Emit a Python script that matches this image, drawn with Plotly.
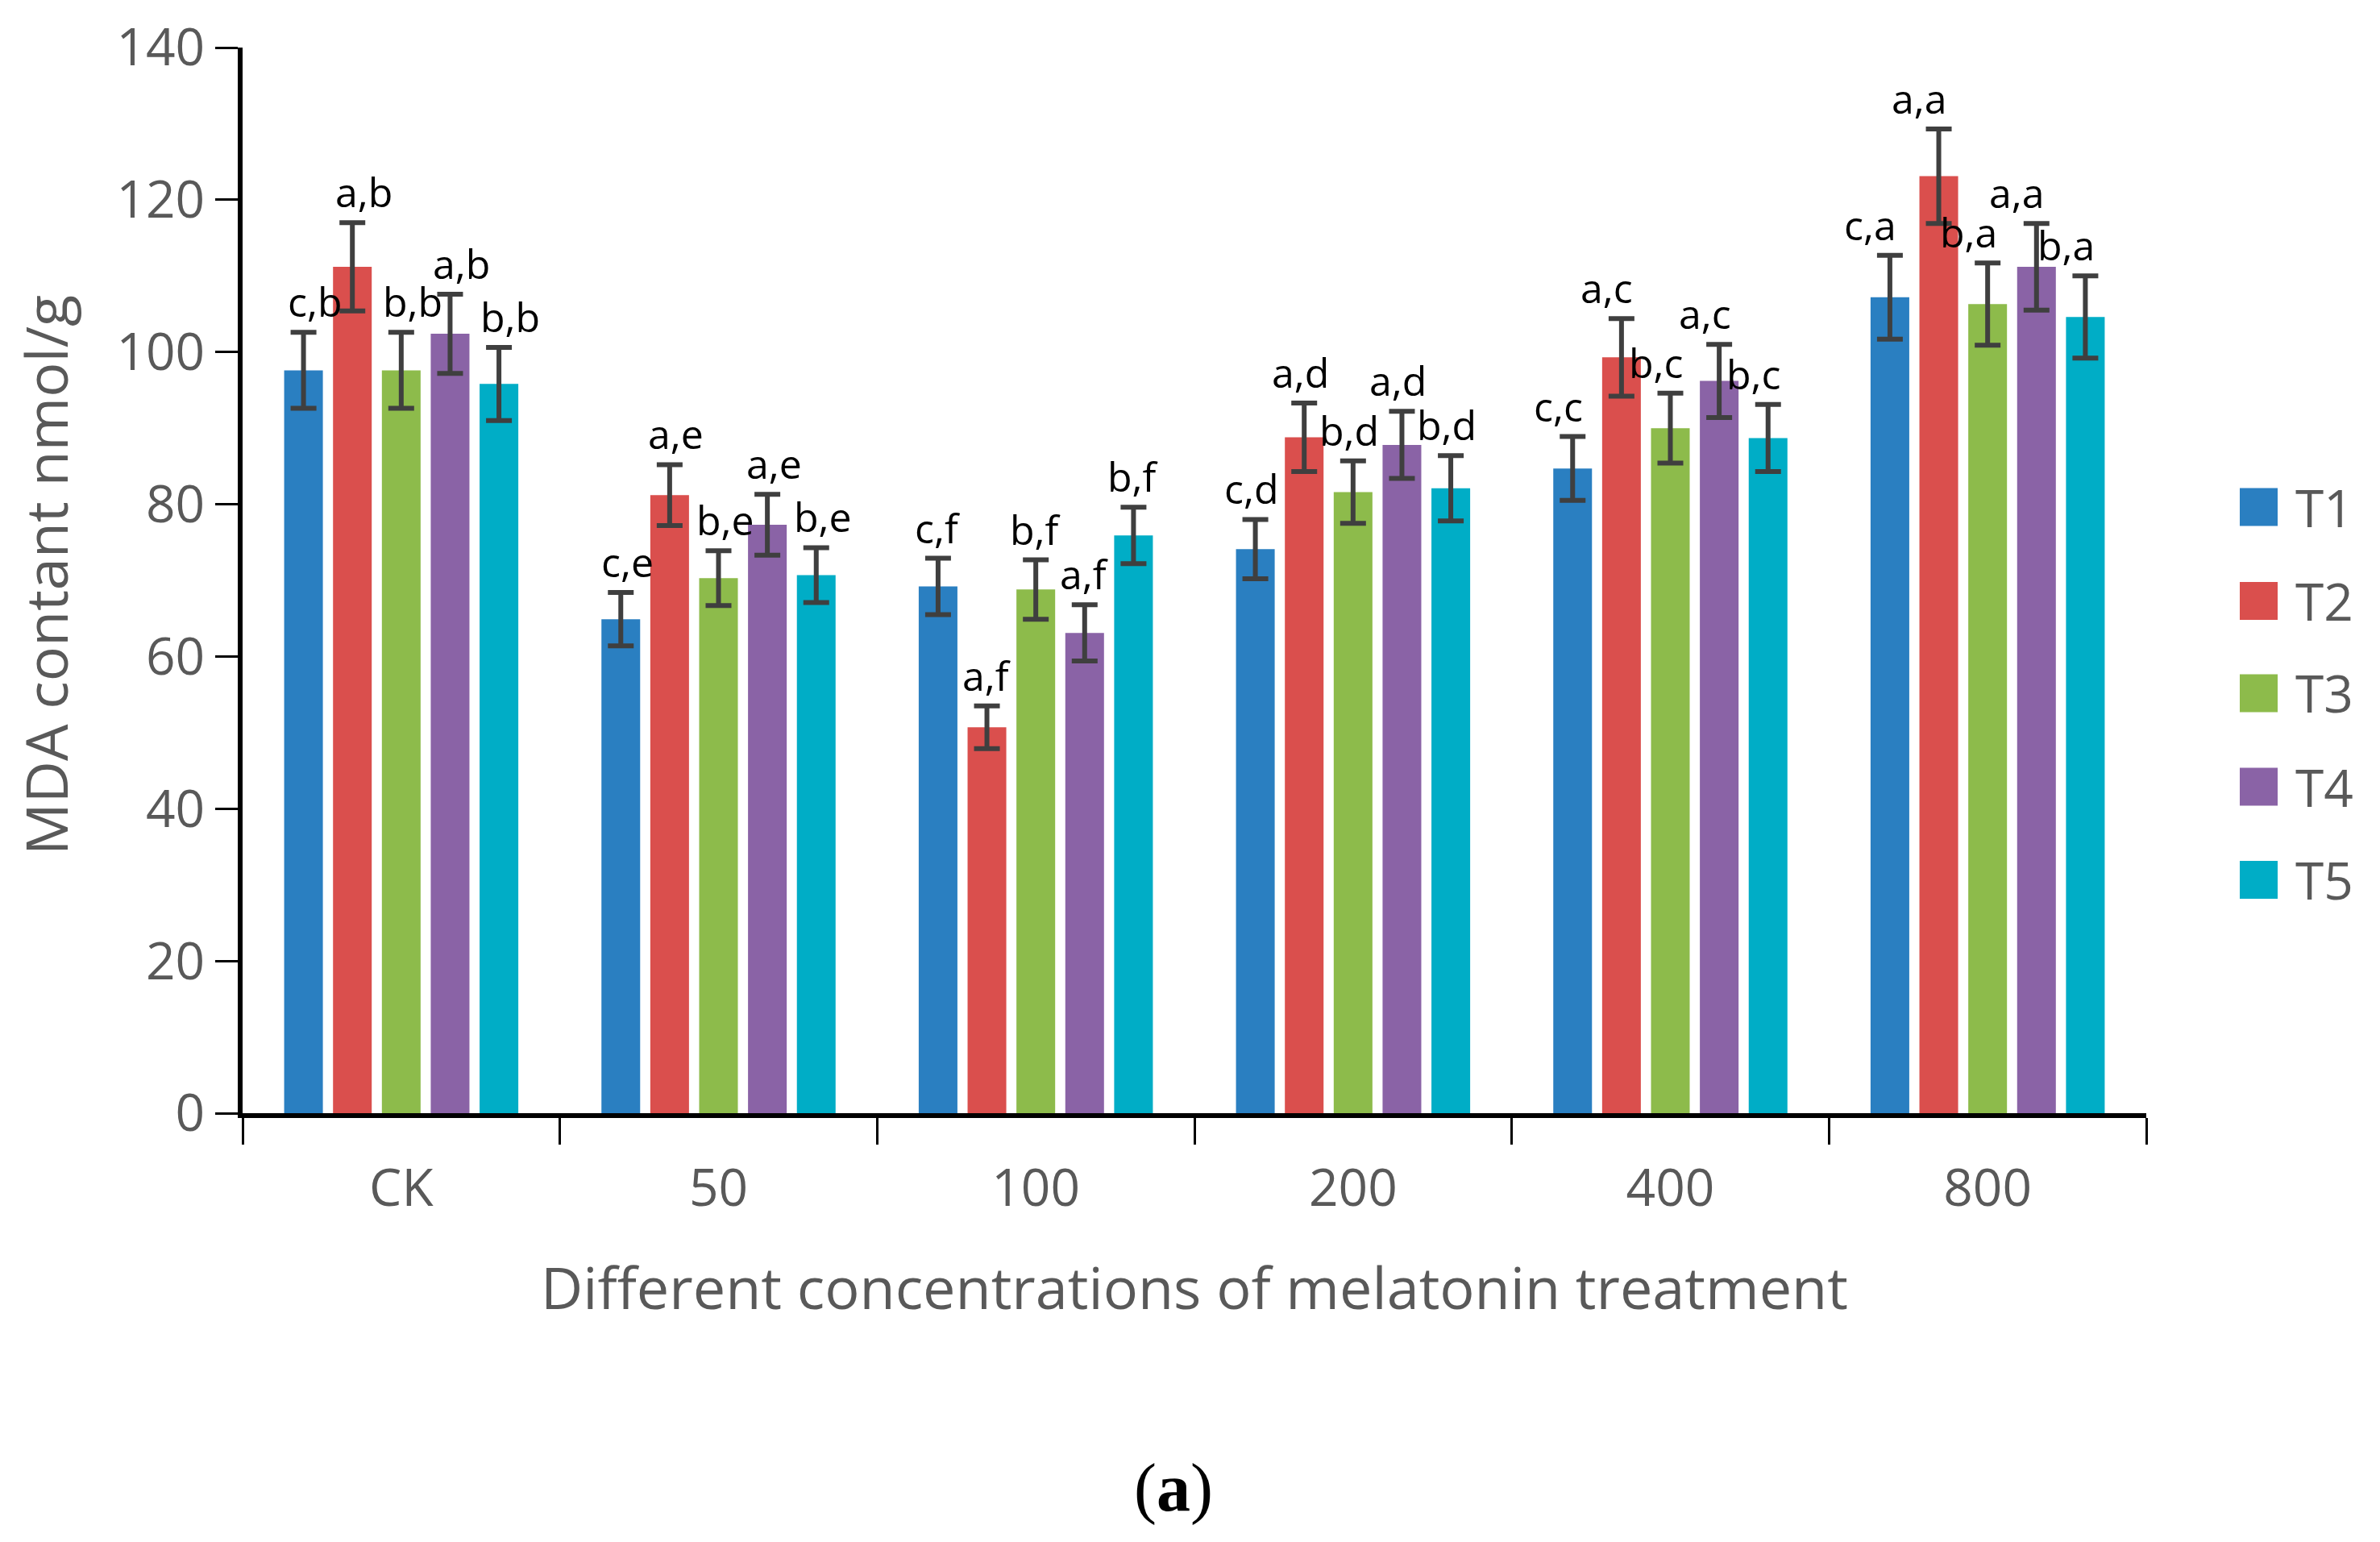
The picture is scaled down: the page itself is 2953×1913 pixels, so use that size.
import plotly.graph_objects as go

# ---------------- data ----------------
categories = ["CK", "50", "100", "200", "400", "800"]
series_names = ["T1", "T2", "T3", "T4", "T5"]

T1 = [97.6, 64.9, 69.2, 74.1, 84.7, 107.2]
T2 = [111.2, 81.2, 50.7, 88.8, 99.3, 123.1]
T3 = [97.6, 70.3, 68.8, 81.6, 90.0, 106.3]
T4 = [102.4, 77.3, 63.1, 87.8, 96.2, 111.2]
T5 = [95.8, 70.7, 75.9, 82.1, 88.7, 104.6]

T1_err = [5.0, 3.5, 3.7, 3.9, 4.2, 5.5]
T2_err = [5.8, 4.0, 2.8, 4.5, 5.1, 6.2]
T3_err = [5.0, 3.6, 3.9, 4.1, 4.6, 5.4]
T4_err = [5.2, 4.0, 3.7, 4.4, 4.8, 5.7]
T5_err = [4.8, 3.6, 3.7, 4.3, 4.4, 5.4]

T1_lab = ["c,b", "c,e", "c,f", "c,d", "c,c", "c,a"]
T2_lab = ["a,b", "a,e", "a,f", "a,d", "a,c", "a,a"]
T3_lab = ["b,b", "b,e", "b,f", "b,d", "b,c", "b,a"]
T4_lab = ["a,b", "a,e", "a,f", "a,d", "a,c", "a,a"]
T5_lab = ["b,b", "b,e", "b,f", "b,d", "b,c", "b,a"]

y_ticks = [0, 20, 40, 60, 80, 100, 120, 140]

# ---------------- style ----------------
colors = ["#2A7FC1", "#DA4F4D", "#8DBB4B", "#8A63A6", "#00ADC6"]
values = [T1, T2, T3, T4, T5]
errors = [T1_err, T2_err, T3_err, T4_err, T5_err]
letters = [T1_lab, T2_lab, T3_lab, T4_lab, T5_lab]

W, H = 2953, 1913
L, R, T, B = 301, 290, 59, 532
PW, PH = W - L - R, H - T - B

def px_x(px):
    return (px - L) / PW

def px_y(py):
    return (H - B - py) / PH

bar_w = 0.122
pitch = 0.154
label_xshift = [14, 8, 0, -5, -18, -24]
FONT = "Open Sans"
GRAY = "#595959"

fig = go.Figure()
annotations = []
shapes = []
for k, name in enumerate(series_names):
    center = (k - 2) * pitch
    fig.add_trace(go.Bar(
        name=name,
        x=categories,
        y=values[k],
        width=bar_w,
        offset=center - bar_w / 2,
        marker=dict(color=colors[k], line=dict(width=0)),
        error_y=dict(type="data", array=errors[k], color="#3F3F3F",
                     thickness=6, width=16),
        showlegend=False,
    ))
    for i in range(len(categories)):
        annotations.append(dict(
            x=i + center, y=values[k][i] + errors[k][i],
            xref="x", yref="y", text=letters[k][i], showarrow=False,
            xanchor="center", yanchor="bottom", yshift=2,
            xshift=label_xshift[i],
            font=dict(family=FONT, size=50, color="#000000"),
        ))

# legend drawn manually
leg_centers = [629, 745.5, 860, 976, 1091.5]
for k, name in enumerate(series_names):
    cy = leg_centers[k]
    shapes.append(dict(type="rect", xref="paper", yref="paper",
                       x0=px_x(2779), x1=px_x(2826),
                       y0=px_y(cy + 23.5), y1=px_y(cy - 23.5),
                       fillcolor=colors[k], line=dict(width=0)))
    annotations.append(dict(x=px_x(2846), y=px_y(cy), xref="paper", yref="paper",
                            text=name, showarrow=False, xanchor="left",
                            yanchor="middle",
                            font=dict(family=FONT, size=64, color=GRAY)))

# axis titles
annotations.append(dict(x=0.5, y=px_y(1596), xref="paper", yref="paper",
                        text="Different concentrations of melatonin treatment",
                        showarrow=False, xanchor="center", yanchor="middle",
                        font=dict(family=FONT, size=72, color=GRAY)))
annotations.append(dict(x=px_x(56), y=px_y(714), xref="paper", yref="paper",
                        text="MDA contant nmol/g", textangle=-90,
                        showarrow=False, xanchor="center", yanchor="middle",
                        font=dict(family=FONT, size=72, color=GRAY)))
annotations.append(dict(x=px_x(1456), y=px_y(1846), xref="paper", yref="paper",
                        text="(<b>a</b>)", showarrow=False,
                        xanchor="center", yanchor="middle",
                        font=dict(family="Liberation Serif", size=84, color="#000000")))

fig.update_layout(
    width=W, height=H,
    margin=dict(l=L, r=R, t=T, b=B, autoexpand=False),
    paper_bgcolor="white", plot_bgcolor="white",
    barmode="overlay",
    annotations=annotations,
    shapes=shapes,
    showlegend=False,
    xaxis=dict(
        type="category", range=[-0.5, len(categories) - 0.5],
        tickson="boundaries", ticks="outside", ticklen=33, tickwidth=3,
        tickcolor="black", showline=True, linewidth=6, linecolor="black",
        showgrid=False, zeroline=False,
        tickfont=dict(family=FONT, size=64, color=GRAY),
        ticklabelstandoff=32,
    ),
    yaxis=dict(
        range=[0, 140], tickvals=y_ticks, ticks="outside", ticklen=28,
        tickwidth=3, tickcolor="black", showline=True, linewidth=6,
        linecolor="black", showgrid=False, zeroline=False,
        tickfont=dict(family=FONT, size=64, color=GRAY),
    ),
)

fig.write_html("out.html", config={"displayModeBar": False},
               post_script="document.body.style.margin='0';")
